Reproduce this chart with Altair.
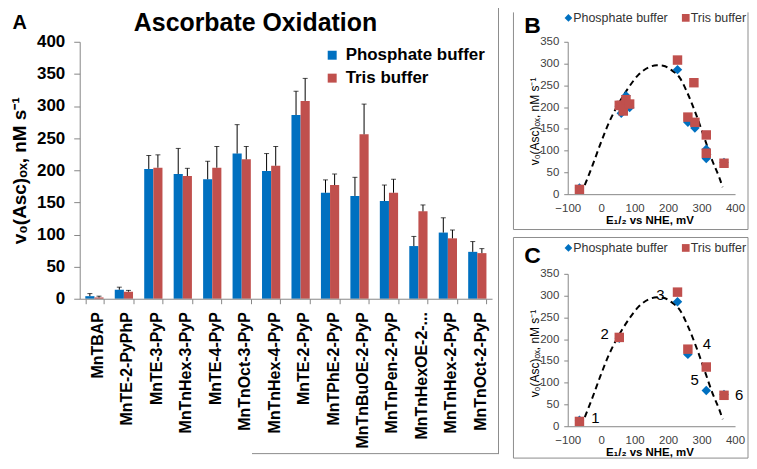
import altair as alt
import pandas as pd

FONT = "Liberation Sans"

# ---------------- data ----------------
compounds = ["MnTBAP", "MnTE-2-PyPhP", "MnTE-3-PyP", "MnTnHex-3-PyP", "MnTE-4-PyP",
             "MnTnOct-3-PyP", "MnTnHex-4-PyP", "MnTE-2-PyP", "MnTPhE-2-PyP",
             "MnTnBuOE-2-PyP", "MnTnPen-2-PyP", "MnTnHexOE-2-PyP", "MnTnHex-2-PyP",
             "MnTnOct-2-PyP"]
phosphate = [4, 14, 202, 194, 186, 226, 199, 286, 165, 160, 152, 82, 103, 73]
phosphate_err_top = [8, 18, 223, 234, 214, 271, 226, 323, 185, 189, 177, 97, 126, 89]
tris = [2, 11, 204, 191, 204, 217, 207, 308, 177, 256, 165, 136, 94, 71]
tris_err_top = [4, 13, 224, 203, 237, 237, 237, 343, 194, 303, 186, 146, 107, 78]
e_half = [None, -65, 54, 66, 60, 74, 85, 228, 259, 277, 280, 314, 314, 367]

panel_c_compounds = ["MnTE-2-PyPhP", "MnTE-3-PyP", "MnTE-2-PyP", "MnTPhE-2-PyP",
                     "MnTnHexOE-2-PyP", "MnTnOct-2-PyP"]

curve_e = [-49, -27, -2, 23, 52, 82, 111, 141, 166, 185, 210, 235, 259, 284, 308, 333, 353, 363]
curve_v = [21, 64, 116, 164, 208, 245, 274, 291, 296, 295, 285, 267, 230, 182, 130, 75, 38, 16]

c_label_text = ["1", "2", "3", "4", "5", "6"]
c_label_e = [-17, 10, 177, 316, 279, 412]
c_label_v = [19, 212, 302, 189, 105, 71]

buffers = ["Phosphate buffer", "Tris buffer"]
colors = ["#0070C0", "#C0504D"]
shapes = ["diamond", "square"]

# ---------------- tables ----------------
rows = []
for b_i, (vals, errs) in enumerate([(phosphate, phosphate_err_top), (tris, tris_err_top)]):
    for i, c in enumerate(compounds):
        rows.append({"compound": c, "buffer": buffers[b_i], "value": vals[i],
                     "err": errs[i], "E": e_half[i], "ord": b_i})
df = pd.DataFrame(rows)
scatter_b = df[df["E"].notna()].reset_index(drop=True)
scatter_c = scatter_b[scatter_b["compound"].isin(panel_c_compounds)].reset_index(drop=True)
curve_df = pd.DataFrame({"E": curve_e, "value": curve_v})
labels_c = pd.DataFrame({"E": c_label_e, "value": c_label_v, "t": c_label_text})

one = pd.DataFrame({"k": [0]})
GRAY = "#8c8c8c"


def text_at(txt, x, y, size, weight="normal", align="left", baseline="alphabetic",
            color="black"):
    return alt.Chart(pd.DataFrame({"t": [txt]})).mark_text(
        font=FONT, fontSize=size, fontWeight=weight, align=align,
        baseline=baseline, color=color
    ).encode(x=alt.value(x), y=alt.value(y), text="t:N")


def rect_at(x1, x2, y1, y2, stroke=True):
    if stroke:
        m = alt.Chart(one).mark_rect(fill="white", stroke=GRAY, strokeWidth=1)
    else:
        m = alt.Chart(one).mark_rect(fill="white", strokeWidth=0)
    return m.encode(x=alt.value(x1), x2=alt.value(x2), y=alt.value(y1), y2=alt.value(y2))


def rule_at(x1, x2, y1, y2):
    return alt.Chart(one).mark_rule(color=GRAY, strokeWidth=1).encode(
        x=alt.value(x1), x2=alt.value(x2), y=alt.value(y1), y2=alt.value(y2))


# Layout works in page pixels: visible content lies between x 8..748 and y 8..454.
TOP, BOTTOM, RIGHT = 8, 454, 748
A_TOP = 2   # panel A's (blank) frame starts above the visible page area

# ---------------- panel A ----------------
A_X0, A_Y0 = 79, 40
A_W, A_H = 414, 258
x_a = alt.X("compound:N", sort=compounds,
            scale=alt.Scale(paddingInner=0.38, paddingOuter=0.19),
            axis=alt.Axis(title=None, labelAngle=-90, labelFont=FONT, labelFontSize=16,
                          labelFontWeight="bold", labelColor="black", labelPadding=8,
                          labelOffset=3, tickBand="extent", tickSize=5, zindex=1,
                          domainColor="#868686", tickColor="#868686",
                          labelExpr="datum.label == 'MnTnHexOE-2-PyP' ? 'MnTnHexOE-2-...' : datum.label"))
xo_a = alt.XOffset("buffer:N", sort=buffers, scale=alt.Scale(paddingInner=0, paddingOuter=0))
axis_ya = alt.Axis(values=list(range(0, 401, 50)), grid=False, zindex=1,
                   title="v₀(Asc)ₒₓ, nM s⁻¹", titleFont=FONT, titleFontSize=19,
                   titleFontWeight="bold", titleColor="black", titleX=-54, titleY=A_H / 2,
                   titleBaseline="alphabetic", titleAlign="center", titleAngle=270,
                   labelFont=FONT, labelFontSize=17, labelFontWeight="bold", labelColor="black",
                   tickSize=6, labelPadding=9, domainColor="#868686", tickColor="#868686")
scale_ya = alt.Scale(domain=[0, 400], nice=False)

legend_a = alt.Legend(title=None, orient="none", legendX=245, legendY=5, direction="vertical",
                      labelFont=FONT, labelFontSize=17, labelFontWeight="bold", labelColor="black",
                      symbolType="square", symbolSize=81, symbolStrokeWidth=0, labelOffset=5,
                      rowPadding=5, padding=0)

bars = alt.Chart(df).mark_bar().encode(
    x=x_a, xOffset=xo_a,
    y=alt.Y("value:Q", scale=scale_ya, axis=axis_ya),
    color=alt.Color("buffer:N", scale=alt.Scale(domain=buffers, range=colors), legend=legend_a),
)
err_rule = alt.Chart(df).mark_rule(color="black", strokeWidth=1).encode(
    x=x_a, xOffset=xo_a,
    y=alt.Y("value:Q", scale=scale_ya, axis=axis_ya), y2="err:Q")
err_cap = alt.Chart(df).mark_tick(color="black", thickness=1, size=5, orient="horizontal").encode(
    x=x_a, xOffset=xo_a, y=alt.Y("err:Q", scale=scale_ya, axis=axis_ya))

panel_a = alt.layer(
    rect_at(TOP - A_X0, 500 - A_X0, A_TOP - A_Y0, BOTTOM - A_Y0, stroke=False),
    rule_at(499.5 - A_X0, 499.5 - A_X0, A_TOP - A_Y0, BOTTOM - A_Y0),
    rule_at(252 - A_X0, 499.5 - A_X0, BOTTOM - 0.5 - A_Y0, BOTTOM - 0.5 - A_Y0),
    bars, err_rule, err_cap,
    text_at("Ascorbate Oxidation", 255.5 - A_X0, 29.5 - A_Y0, 25, weight="bold", align="center"),
    text_at("A", 11.5 - A_X0, 26.7 - A_Y0, 20, weight="bold"),
).properties(width=A_W, height=A_H)

# ---------------- panels B and C ----------------
S_X0 = 567
S_W, S_H = 168, 153
axis_xs = alt.Axis(values=[-100, 0, 100, 200, 300, 400], grid=False, zindex=1,
                   title="E₁/₂ vs NHE, mV", titleFont=FONT, titleFontSize=11.5,
                   titleFontWeight="bold", titleColor="black", titleX=82, titleY=29,
                   titleBaseline="alphabetic", titleAlign="center",
                   labelFont=FONT, labelFontSize=11.5, labelColor="#404040", ticks=False,
                   tickSize=0, labelPadding=8, labelFlush=False, domainColor="#868686")
axis_ys = alt.Axis(values=list(range(0, 351, 50)), grid=False, zindex=1,
                   title="v₀(Asc)ₒₓ, nM s⁻¹", titleFont=FONT, titleFontSize=12,
                   titleFontWeight="normal", titleColor="black", titleX=-29, titleY=S_H / 2 + 3,
                   titleBaseline="alphabetic", titleAlign="center", titleAngle=270,
                   labelFont=FONT, labelFontSize=11.5, labelColor="#404040", tickSize=4,
                   labelPadding=5, labelFlush=False, domainColor="#868686", tickColor="#868686")
xs = alt.X("E:Q", scale=alt.Scale(domain=[-100, 400], nice=False), axis=axis_xs)
ys = alt.Y("value:Q", scale=alt.Scale(domain=[0, 350], nice=False), axis=axis_ys)
color_s = alt.Color("buffer:N", scale=alt.Scale(domain=buffers, range=colors), legend=None)
shape_s = alt.Shape("buffer:N", scale=alt.Scale(domain=buffers, range=shapes), legend=None)

# legend entries of B and C: symbol centre x and label start x (page pixels)
leg_symbol_x = [567.7, 685.5]
leg_label_x = [572.5, 690.5]


def legend_layers(cy, y0):
    out = []
    for i, b in enumerate(buffers):
        out.append(alt.Chart(pd.DataFrame({"buffer": [b]})).mark_point(
            filled=True, opacity=1, size=60).encode(
            x=alt.value(leg_symbol_x[i] - S_X0), y=alt.value(cy - y0),
            color=color_s, shape=shape_s))
        out.append(text_at(b, leg_label_x[i] - S_X0, cy - y0, 12.5, baseline="middle",
                           color="#333333"))
    return out


def scatter_panel(data, y0, legend_cy, letter, letter_base, frame, extra=None):
    curve = alt.Chart(curve_df).mark_line(strokeDash=[6, 4], strokeWidth=2, color="black",
                                          interpolate="monotone").encode(x=xs, y=ys)
    pts = alt.Chart(data).mark_point(filled=True, opacity=1, size=90).encode(
        x=xs, y=ys, color=color_s, shape=shape_s, order=alt.Order("ord:Q"))
    layers = frame + [curve, pts]
    if extra is not None:
        layers.append(extra)
    layers += legend_layers(legend_cy, y0)
    layers.append(text_at(letter, 523.3 - S_X0, letter_base - y0, 23, weight="bold"))
    return alt.layer(*layers).properties(width=S_W, height=S_H)


label_layer = alt.Chart(labels_c).mark_text(font=FONT, fontSize=15, color="black",
                                            align="center", baseline="middle").encode(
    x=xs, y=ys, text="t:N")

# panel B frame: top edge lies above the page, so only left, right and bottom edges show
B_Y0 = 37.5
B_BOT = 226
L, R = 512.5 - S_X0, RIGHT - S_X0
frame_b = [
    rect_at(L, R, TOP - B_Y0, B_BOT - B_Y0, stroke=False),
    rule_at(L, L, TOP - B_Y0, B_BOT - B_Y0),
    rule_at(R, R, TOP - B_Y0, B_BOT - B_Y0),
    rule_at(L, R, B_BOT - B_Y0, B_BOT - B_Y0),
]
panel_b = scatter_panel(scatter_b, B_Y0, 13.5, "B", 28.7, frame_b)

C_TOP = 232
C_Y0 = C_TOP + 36.5
frame_c = [rect_at(L, R, C_TOP - C_Y0, BOTTOM - 0.5 - C_Y0)]
panel_c = scatter_panel(scatter_c, C_Y0, C_TOP + 10.5, "C", C_TOP + 26, frame_c,
                        extra=label_layer)

right = alt.vconcat(panel_b, panel_c, spacing=5).resolve_scale(
    color="independent", shape="independent")
chart = alt.hconcat(panel_a, right, spacing=12).resolve_scale(
    color="independent", shape="independent").resolve_legend(
    color="independent", shape="independent").properties(
    padding={"left": 0, "top": -6, "right": 0, "bottom": 0},
    background="white",
).configure(font=FONT).configure_view(stroke="transparent")

chart.save("out.html", embed_options={"renderer": "svg", "actions": False})
